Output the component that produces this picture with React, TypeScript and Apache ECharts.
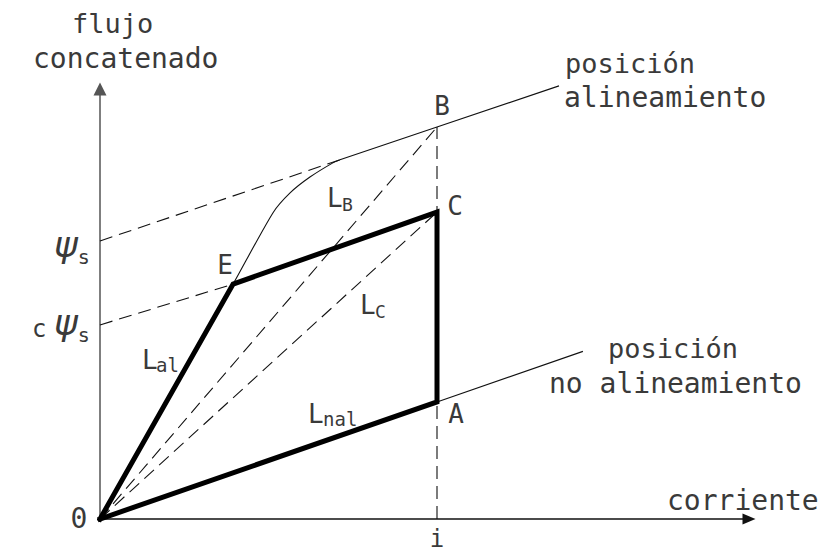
import React, { useEffect, useRef } from "react";
import * as echarts from "echarts";

// Flux-linkage vs. current diagram for a switched reluctance machine.
// Units: current normalised so that i = 1, flux normalised so that psi_s = 1.
const currentI = 1.0;
const psiS = 1.0;
const cPsiS = 0.698;

const pointE: [number, number] = [0.395, 0.845];
const pointB: [number, number] = [currentI, 1.41];
const pointC: [number, number] = [currentI, 1.104];
const pointA: [number, number] = [currentI, 0.421];

// aligned-position magnetisation curve (bend between E and the saturated part)
const alignedCurve: [number, number][] = [
  [0, 0],
  pointE,
  [0.513, 1.101],
  [0.564, 1.173],
  [0.623, 1.23],
  [0.691, 1.281],
  [0.712, 1.292],
];
const alignedSaturated: [number, number][] = [[0.712, 1.292], pointB, [1.362, 1.558]];
const unalignedLine: [number, number][] = [[0, 0], pointA, [1.433, 0.603]];

// energy-conversion loop O-E-C-A-O
const loop: [number, number][] = [[0, 0], pointE, pointC, pointA, [0, 0]];

// dashed construction lines
const psiSExtension: [number, number][] = [[0, psiS], [0.712, 1.292]];
const cPsiSExtension: [number, number][] = [[0, cPsiS], pointE];
const chordB: [number, number][] = [[0, 0], pointB];
const chordC: [number, number][] = [[0, 0], pointC];
const currentMarker: [number, number][] = [[currentI, 0], pointB];

const FONT = "DejaVu Sans Mono";
const INK = "#3a3a3a";

function txt(text: string, x: number, y: number, size: number, align: string = "left") {
  return {
    type: "text",
    x,
    y,
    silent: true,
    style: {
      text,
      fill: INK,
      font: `${size}px "${FONT}"`,
      textAlign: align,
      textVerticalAlign: "middle",
    },
  };
}

// psi with a subscript s, as one rich text
function psiLabel(x: number, y: number) {
  return {
    type: "text",
    x,
    y,
    silent: true,
    style: {
      text: "{p|ψ}{s|s}",
      textAlign: "left",
      textVerticalAlign: "middle",
      rich: {
        p: { fontSize: 36, fontStyle: "italic", fontFamily: "DejaVu Sans", fill: INK, lineHeight: 40 },
        s: { fontSize: 20, fontFamily: FONT, fill: INK, padding: [26, 0, 0, 0] },
      },
    },
  };
}

export default function App() {
  const ref = useRef<HTMLDivElement>(null);

  useEffect(() => {
    if (!ref.current) return;
    const chart = echarts.init(ref.current, undefined, { renderer: "svg" });

    const thin = (data: [number, number][], dashed = false, smooth: number | boolean = false) => ({
      type: "line",
      data,
      symbol: "none",
      clip: false,
      smooth,
      silent: true,
      lineStyle: { color: "#111", width: 1.1, type: dashed ? [13, 7] : "solid" },
      z: 2,
    });

    chart.setOption({
      animation: false,
      backgroundColor: "#fff",
      grid: { left: 100, top: 89, width: 649, height: 430, containLabel: false },
      xAxis: {
        type: "value",
        min: 0,
        max: 649 / 337,
        axisLine: {
          show: true,
          symbol: ["none", "triangle"],
          symbolSize: [11, 13],
          lineStyle: { color: "#111", width: 1.5 },
        },
        axisTick: { show: false },
        axisLabel: { show: false },
        splitLine: { show: false },
      },
      yAxis: {
        type: "value",
        min: 0,
        max: 430 / 278,
        axisLine: {
          show: true,
          symbol: ["none", "triangle"],
          symbolSize: [13, 13],
          lineStyle: { color: "#555", width: 1.5 },
        },
        axisTick: { show: false },
        axisLabel: { show: false },
        splitLine: { show: false },
      },
      series: [
        thin(alignedCurve, false, 0.25),
        thin(alignedSaturated),
        thin(unalignedLine),
        thin(psiSExtension, true),
        thin(cPsiSExtension, true),
        thin(chordB, true),
        thin(chordC, true),
        thin(currentMarker, true),
        {
          type: "line",
          data: loop,
          symbol: "none",
          clip: false,
          silent: true,
          lineStyle: { color: "#000", width: 5, join: "miter", cap: "square" },
          z: 5,
        },
      ],
      graphic: [
        txt("flujo", 72, 23, 27),
        txt("concatenado", 33, 58, 28),
        txt("posición", 565, 63, 27),
        txt("alineamiento", 564, 97, 28),
        txt("posición", 608, 348, 27),
        txt("no alineamiento", 549, 383, 28),
        txt("corriente", 667, 500, 28),
        txt("i", 437, 539, 24, "center"),
        txt("0", 79, 518, 28, "center"),
        txt("B", 442, 106, 26, "center"),
        txt("C", 455, 206, 26, "center"),
        txt("A", 456, 414, 26, "center"),
        txt("E", 225, 265, 26, "center"),
        txt("L", 327, 198, 26),
        txt("B", 342, 204, 18),
        txt("L", 360, 305, 26),
        txt("C", 375, 311, 18),
        txt("L", 308, 414, 26),
        txt("nal", 323, 419, 19),
        txt("L", 142, 360, 26),
        txt("al", 156, 365, 19),
        psiLabel(54, 244),
        txt("c", 32, 329, 24),
        psiLabel(54, 322),
      ],
    });

    return () => chart.dispose();
  }, []);

  return (
    <div
      ref={ref}
      style={{ position: "fixed", left: 0, top: 0, width: 834, height: 556, background: "#fff" }}
    />
  );
}
